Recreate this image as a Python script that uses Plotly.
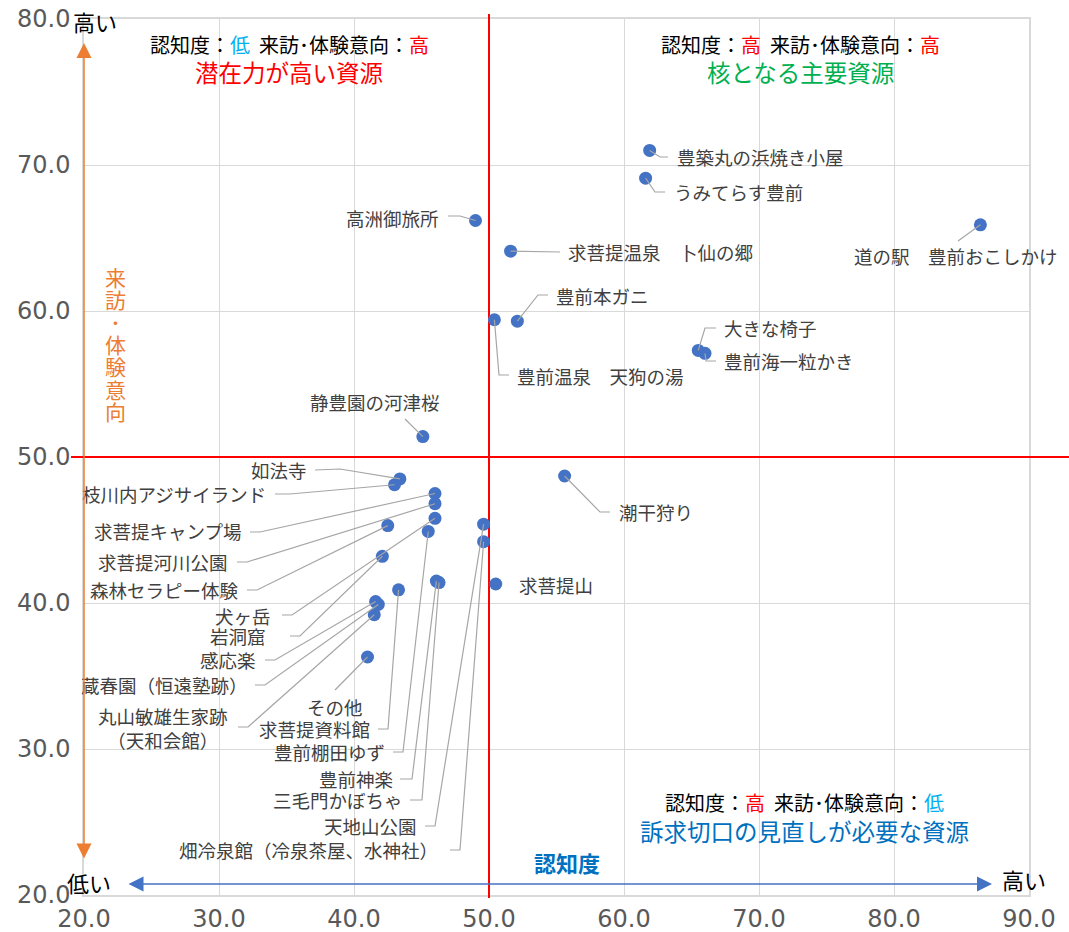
import plotly.graph_objects as go

# ---------------- data ----------------
names = [
    "豊築丸の浜焼き小屋", "うみてらす豊前", "道の駅　豊前おこしかけ", "高洲御旅所",
    "求菩提温泉　卜仙の郷", "豊前本ガニ", "豊前温泉　天狗の湯", "大きな椅子",
    "豊前海一粒かき", "静豊園の河津桜", "潮干狩り", "如法寺",
    "枝川内アジサイランド", "求菩提キャンプ場", "求菩提河川公園", "森林セラピー体験",
    "犬ヶ岳", "岩洞窟", "感応楽", "蔵春園（恒遠塾跡）",
    "丸山敏雄生家跡（天和会館）", "その他", "求菩提資料館", "豊前棚田ゆず",
    "豊前神楽", "三毛門かぼちゃ", "天地山公園", "畑冷泉館（冷泉茶屋、水神社）",
    "求菩提山",
]
awareness = [
    61.9, 61.6, 86.4, 49.0,
    51.6, 52.1, 50.4, 65.5,
    66.0, 45.1, 55.6, 43.4,
    43.0, 46.0, 46.0, 42.5,
    46.0, 42.1, 41.6, 41.8,
    41.5, 41.0, 43.3, 45.5,
    46.1, 46.3, 49.6, 49.6,
    50.5,
]
intention = [
    71.0, 69.1, 65.9, 66.2,
    64.1, 59.3, 59.4, 57.3,
    57.1, 51.4, 48.7, 48.5,
    48.1, 47.5, 46.8, 45.3,
    45.8, 43.2, 40.1, 39.9,
    39.2, 36.3, 40.9, 44.9,
    41.5, 41.4, 45.4, 44.2,
    41.3,
]
x_ticks = [20, 30, 40, 50, 60, 70, 80, 90]
y_ticks = [20, 30, 40, 50, 60, 70, 80]
threshold_x = 50
threshold_y = 50

# ---------------- layout helpers ----------------
FONT = "Noto Sans CJK JP"
TICKFONT = "DejaVu Sans"
W, H = 1069, 932
L, R, T, B = 84, 40, 19, 37
PW, PH = W - L - R, H - T - B
X0, X1, Y0, Y1 = 20, 90, 20, 80


def dx(px):
    return X0 + (px - L) * (X1 - X0) / PW


def dy(py):
    return Y0 + (T + PH - py) * (Y1 - Y0) / PH


def paper_x(px):
    return (px - L) / PW


def paper_y(py):
    return (T + PH - py) / PH


# label placement (pixels): text x, text y, anchor, leader points from text side
label_layout = {
    "豊築丸の浜焼き小屋": (675, 157, "left", [(668, 157), (660, 157)]),
    "うみてらす豊前": (672, 192, "left", [(665, 192), (655, 192)]),
    "道の駅　豊前おこしかけ": (956, 256, "center", [(958, 241)]),
    "高洲御旅所": (441, 218, "right", [(448, 216), (460, 216)]),
    "求菩提温泉　卜仙の郷": (566, 252, "left", [(560, 252)]),
    "豊前本ガニ": (554, 296, "left", [(548, 295), (538, 295)]),
    "豊前温泉　天狗の湯": (515, 376, "left", [(509, 375), (499, 375)]),
    "大きな椅子": (722, 328, "left", [(716, 328), (705, 328)]),
    "豊前海一粒かき": (722, 361, "left", [(716, 361), (706, 361)]),
    "静豊園の河津桜": (375, 402, "center", [(405, 419)]),
    "潮干狩り": (617, 512, "left", [(610, 512), (600, 512)]),
    "如法寺": (309, 470, "right", [(315, 470), (340, 469)]),
    "枝川内アジサイランド": (268, 494, "right", [(275, 494), (290, 494)]),
    "求菩提キャンプ場": (243, 531, "right", [(250, 532), (260, 532)]),
    "求菩提河川公園": (230, 562, "right", [(237, 562), (247, 562)]),
    "森林セラピー体験": (241, 590, "right", [(247, 590), (257, 590)]),
    "犬ヶ岳": (273, 616, "right", [(282, 615), (292, 615)]),
    "岩洞窟": (268, 636, "right", [(290, 636), (300, 636)]),
    "感応楽": (258, 660, "right", [(265, 660), (275, 660)]),
    "蔵春園（恒遠塾跡）": (250, 685, "right", [(255, 685), (265, 685)]),
    "丸山敏雄生家跡（天和会館）": (230, 728, "right", [(238, 727), (248, 727)]),
    "その他": (335, 707, "center", [(335, 690)]),
    "求菩提資料館": (372, 729, "right", [(378, 729), (388, 729)]),
    "豊前棚田ゆず": (387, 752, "right", [(393, 752), (403, 752)]),
    "豊前神楽": (395, 779, "right", [(400, 779), (412, 779)]),
    "三毛門かぼちゃ": (405, 800, "right", [(410, 800), (422, 800)]),
    "天地山公園": (419, 826, "right", [(425, 826), (435, 826)]),
    "畑冷泉館（冷泉茶屋、水神社）": (440, 850, "right", [(450, 850), (460, 850)]),
    "求菩提山": (517, 585, "left", []),
}
display_names = {"丸山敏雄生家跡（天和会館）": "丸山敏雄生家跡<br>（天和会館）"}

fig = go.Figure()

fig.add_trace(go.Scatter(
    x=awareness, y=intention, mode="markers",
    marker=dict(size=13, color="#4472C4"),
    hoverinfo="text", text=names, showlegend=False,
))

lx, ly = [], []
annotations = []
for n, xv, yv in zip(names, awareness, intention):
    tx, ty, anc, leader = label_layout[n]
    if leader:
        for p in leader:
            lx.append(dx(p[0]))
            ly.append(dy(p[1]))
        lx += [xv, None]
        ly += [yv, None]
    annotations.append(dict(
        x=paper_x(tx), y=paper_y(ty), xref="paper", yref="paper",
        text=display_names.get(n, n), showarrow=False,
        xanchor=anc, yanchor="middle", align="center",
        font=dict(family=FONT, size=18.5, color="#404040"),
    ))

fig.add_trace(go.Scatter(
    x=lx, y=ly, mode="lines", line=dict(color="#A6A6A6", width=1.2),
    hoverinfo="skip", showlegend=False,
))

RED = "#FF0000"
LBLUE = "#00B0F0"


def quad(cx, cy1, cy2, a_col, a_txt, i_col, i_txt, title, tcol):
    line1 = ("認知度：<span style='color:%s'>%s</span>\u00a0\u00a0来訪･体験意向：<span style='color:%s'>%s</span>"
             % (a_col, a_txt, i_col, i_txt))
    annotations.append(dict(x=paper_x(cx), y=paper_y(cy1), xref="paper", yref="paper",
                            text=line1, showarrow=False, xanchor="center", yanchor="middle",
                            font=dict(family=FONT, size=20, color="#000000")))
    annotations.append(dict(x=paper_x(cx), y=paper_y(cy2), xref="paper", yref="paper",
                            text=title, showarrow=False, xanchor="center", yanchor="middle",
                            font=dict(family=FONT, size=23.5, color=tcol)))


quad(289, 44, 72, LBLUE, "低", RED, "高", "潜在力が高い資源", RED)
quad(800, 44, 72, RED, "高", RED, "高", "核となる主要資源", "#00B050")
quad(804, 802, 831, RED, "高", LBLUE, "低", "訴求切口の見直しが必要な資源", "#0070C0")

# axis end labels
for txt, cx, cy in [("高い", 95, 21), ("低い", 89, 882), ("高い", 1024, 879)]:
    annotations.append(dict(x=paper_x(cx), y=paper_y(cy), xref="paper", yref="paper",
                            text=txt, showarrow=False, xanchor="center", yanchor="middle",
                            font=dict(family=FONT, size=22, color="#000000")))

# x-axis title
annotations.append(dict(x=paper_x(567), y=paper_y(862), xref="paper", yref="paper",
                        text="<b>認知度</b>", showarrow=False, xanchor="center", yanchor="middle",
                        font=dict(family=FONT, size=22, color="#0070C0")))

# vertical y-axis title (upright characters stacked, one text block)
ORANGE = "#ED7D31"
y_title = "来訪･体験意向"
annotations.append(dict(
    x=paper_x(115), y=paper_y(344), xref="paper", yref="paper",
    text="<br>".join("<span style='font-size:21px'>%s</span>" % c for c in y_title),
    showarrow=False, xanchor="center", yanchor="middle", align="center",
    font=dict(family=FONT, size=17.2, color=ORANGE),
))

# double-headed arrows
annotations.append(dict(x=paper_x(84), y=paper_y(43), xref="paper", yref="paper",
                        ax=0, ay=860 - 43, text="", showarrow=True,
                        arrowhead=2, startarrowhead=2, arrowside="end+start",
                        arrowsize=2, startarrowsize=2, arrowwidth=1.5, arrowcolor=ORANGE))
annotations.append(dict(x=paper_x(992), y=paper_y(884), xref="paper", yref="paper",
                        ax=-(992 - 127), ay=0, text="", showarrow=True,
                        arrowhead=2, startarrowhead=2, arrowside="end+start",
                        arrowsize=2, startarrowsize=2, arrowwidth=1.5, arrowcolor="#4472C4"))

shapes = [
    dict(type="line", xref="x", yref="y", x0=threshold_x, x1=threshold_x, y0=Y0, y1=Y1,
         line=dict(color=RED, width=2), layer="between"),
    dict(type="line", xref="x", yref="y", x0=X0, x1=X1, y0=threshold_y, y1=threshold_y,
         line=dict(color=RED, width=2), layer="between"),
    # extensions outside the plot area
    dict(type="line", xref="x", yref="paper", x0=threshold_x, x1=threshold_x,
         y0=1.0, y1=paper_y(14), line=dict(color=RED, width=2)),
    dict(type="line", xref="x", yref="paper", x0=threshold_x, x1=threshold_x,
         y0=0.0, y1=paper_y(898), line=dict(color=RED, width=2)),
    dict(type="line", xref="paper", yref="y", x0=paper_x(71), x1=0.0,
         y0=threshold_y, y1=threshold_y, line=dict(color=RED, width=2)),
    dict(type="line", xref="paper", yref="y", x0=1.0, x1=paper_x(1069),
         y0=threshold_y, y1=threshold_y, line=dict(color=RED, width=2)),
]

axis_common = dict(
    showgrid=True, gridcolor="#D9D9D9", gridwidth=1,
    showline=True, linecolor="#D9D9D9", linewidth=1.5, mirror=True,
    zeroline=False, ticks="", tickformat=".1f", automargin=False,
    ticklabeloverflow="allow",
    tickfont=dict(family=TICKFONT, size=24, color="#595959"),
)

fig.update_layout(
    width=W, height=H,
    margin=dict(l=L, r=R, t=T, b=B, autoexpand=False),
    paper_bgcolor="white", plot_bgcolor="white",
    xaxis=dict(range=[X0, X1], tickvals=x_ticks, ticklabelstandoff=1, **axis_common),
    yaxis=dict(range=[Y0, Y1], tickvals=y_ticks, ticklabelstandoff=7, **axis_common),
    annotations=annotations, shapes=shapes,
    showlegend=False, font=dict(family=FONT),
)

fig.write_html("out.html")
